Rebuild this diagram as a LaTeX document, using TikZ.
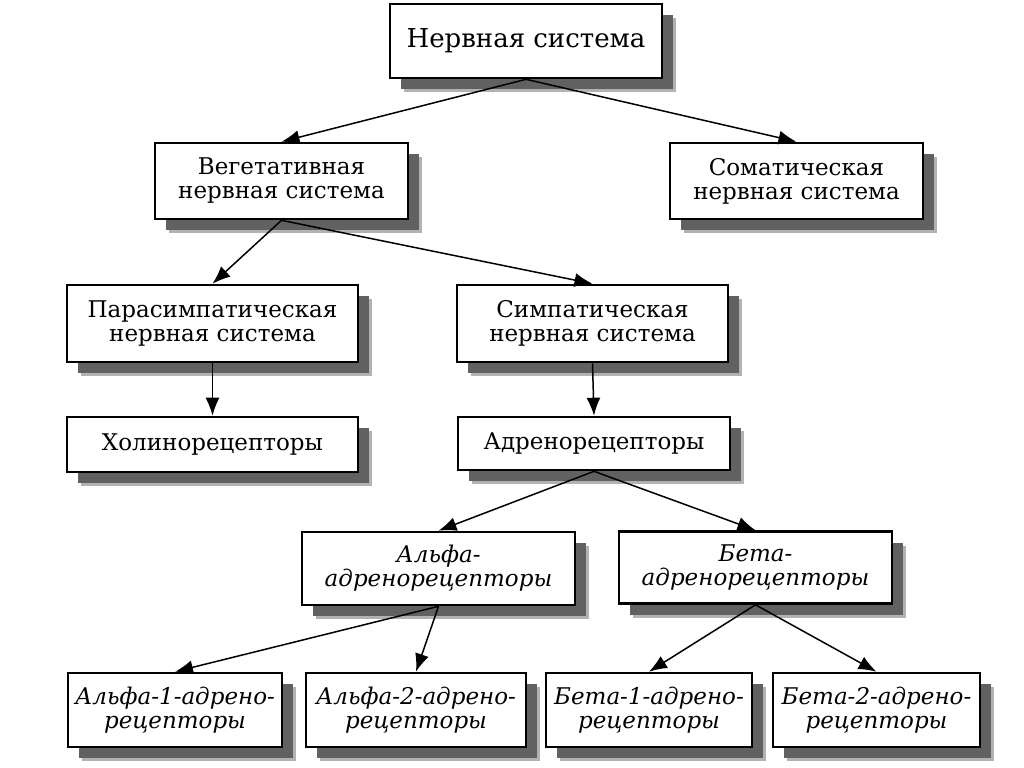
\documentclass[tikz,border=0pt]{standalone}
\usepackage{fontspec}
\setmainfont{DejaVu Serif}
\usetikzlibrary{arrows.meta,shadows}

\tikzset{
  blok/.style={draw, line width=1.3pt, fill=white, align=center, inner sep=0pt,
    font=\fontsize{11.5}{12}\selectfont,
    drop shadow={shadow xshift=7pt, shadow yshift=-7pt, fill=black!30, opacity=1},
    drop shadow={shadow xshift=5.5pt, shadow yshift=-5.5pt, fill=black!62, opacity=1}},
  kursiv/.style={blok, font=\fontsize{11.5}{12}\selectfont\itshape},
  strelka/.style={line width=0.75pt, -{Latex[length=9pt,width=7pt]}}
}

\begin{document}
\begin{tikzpicture}[x=0.5pt, y=-0.5pt]
  \useasboundingbox (0,0) rectangle (1024,767);

  % Верхний уровень
  \node[blok, minimum width=136pt, minimum height=37pt,
        font=\fontsize{13}{14}\selectfont] (ns) at (526,41) {Нервная система};

  % Вегетативная и соматическая
  \node[blok, minimum width=126.5pt, minimum height=38pt] (veg) at (281.5,181)
    {Вегетативная\\нервная система};
  \node[blok, minimum width=126.5pt, minimum height=38pt] (som) at (796.5,181)
    {Соматическая\\нервная система};

  % Парасимпатическая и симпатическая
  \node[blok, minimum width=145.5pt, minimum height=38.5pt] (para) at (212.5,323.5)
    {Парасимпатическая\\нервная система};
  \node[blok, minimum width=135.5pt, minimum height=38.5pt] (simp) at (592.5,323.5)
    {Симпатическая\\нервная система};

  % Рецепторы
  \node[blok, minimum width=145.5pt, minimum height=27.5pt] (holin) at (212.5,444.5)
    {Холинорецепторы};
  \node[blok, minimum width=136pt, minimum height=26.5pt] (adren) at (594,443.5)
    {Адренорецепторы};

  % Альфа и бета
  \node[kursiv, minimum width=136.5pt, minimum height=36.5pt] (alfa) at (438.5,568.5)
    {Альфа-\\адренорецепторы};
  \node[kursiv, minimum width=136.5pt, minimum height=36pt] (beta) at (755.5,567.5)
    {Бета-\\адренорецепторы};

  % Нижний ряд
  \node[kursiv, minimum width=107pt, minimum height=37pt] (alfa1) at (175,710)
    {Альфа-1-адрено-\\рецепторы};
  \node[kursiv, minimum width=110pt, minimum height=37pt] (alfa2) at (416,710)
    {Альфа-2-адрено-\\рецепторы};
  \node[kursiv, minimum width=103pt, minimum height=37pt] (beta1) at (649,710)
    {Бета-1-адрено-\\рецепторы};
  \node[kursiv, minimum width=103.5pt, minimum height=37pt] (beta2) at (876.5,710)
    {Бета-2-адрено-\\рецепторы};

  % Стрелки
  \draw[strelka] (ns.south) -- (veg.north);
  \draw[strelka] (ns.south) -- (som.north);
  \draw[strelka] (veg.south) -- (para.north);
  \draw[strelka] (veg.south) -- (simp.north);
  \draw[strelka] (para.south) -- (holin.north);
  \draw[strelka] (simp.south) -- (adren.north);
  \draw[strelka] (adren.south) -- (alfa.north);
  \draw[strelka] (adren.south) -- (beta.north);
  \draw[strelka] (alfa.south) -- (alfa1.north);
  \draw[strelka] (alfa.south) -- (alfa2.north);
  \draw[strelka] (beta.south) -- (beta1.north);
  \draw[strelka] (beta.south) -- (beta2.north);
\end{tikzpicture}
\end{document}
